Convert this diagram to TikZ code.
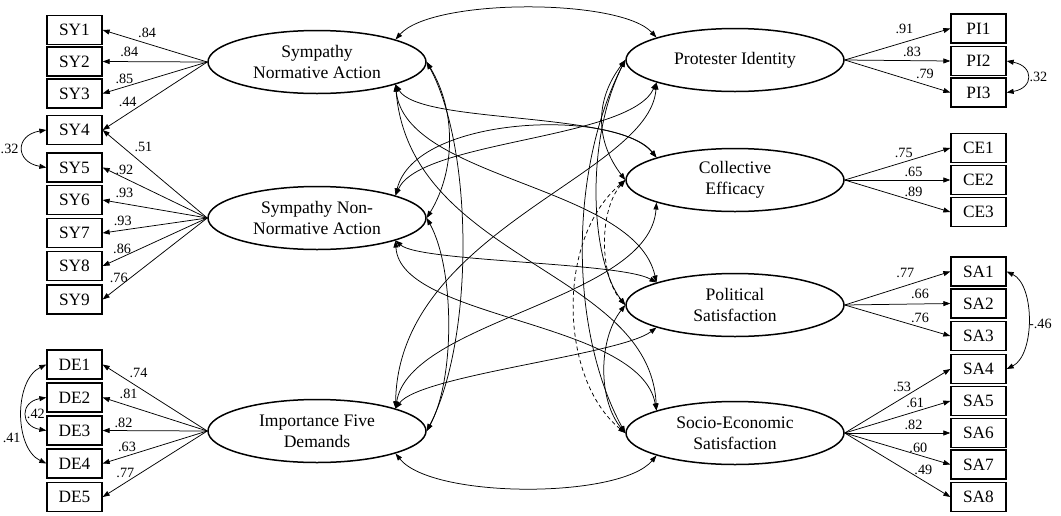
\documentclass[tikz,border=0pt]{standalone}
\usepackage{fontspec}
\setmainfont{Liberation Serif}
\usetikzlibrary{shapes.geometric,arrows.meta}
\begin{document}
\begin{tikzpicture}[x=1pt,y=-1pt,
  lat/.style={ellipse,draw,line width=1.5pt,minimum width=218pt,minimum height=63pt,inner sep=0pt,align=center,font=\fontsize{17.6}{21}\selectfont},
  ind/.style={rectangle,draw,line width=1.3pt,minimum width=55pt,minimum height=29pt,inner sep=0pt,font=\fontsize{17.3}{20}\selectfont},
  load/.style={-{Triangle[length=7pt,width=5pt]},line width=0.75pt},
  cov/.style={{Triangle[length=7pt,width=5pt]}-{Triangle[length=7pt,width=5pt]},line width=0.75pt},
  dcov/.style={cov,dash pattern=on 4pt off 3pt},
  lab/.style={font=\fontsize{14.2}{16}\selectfont,inner sep=0pt}
]
\useasboundingbox (0,0) rectangle (1061,515);

% latent variables
\node[lat] (A) at (317,62) {Sympathy\\Normative Action};
\node[lat] (B) at (317,218) {Sympathy Non-\\Normative Action};
\node[lat] (C) at (317,431) {Importance Five\\Demands};
\node[lat] (P) at (735,60) {Protester Identity};
\node[lat] (E) at (735,180) {Collective\\Efficacy};
\node[lat] (S) at (735,305) {Political\\Satisfaction};
\node[lat] (Q) at (735,433) {Socio-Economic\\Satisfaction};

% left indicators
\node[ind] (SY1) at (74.5,30) {SY1};
\node[ind] (SY2) at (74.5,61.5) {SY2};
\node[ind] (SY3) at (74.5,93.5) {SY3};
\node[ind] (SY4) at (74.5,130) {SY4};
\node[ind] (SY5) at (74.5,167.5) {SY5};
\node[ind] (SY6) at (74.5,200) {SY6};
\node[ind] (SY7) at (74.5,233) {SY7};
\node[ind] (SY8) at (74.5,266) {SY8};
\node[ind] (SY9) at (74.5,299.5) {SY9};
\node[ind] (DE1) at (74.5,364.5) {DE1};
\node[ind] (DE2) at (74.5,397.5) {DE2};
\node[ind] (DE3) at (74.5,430.5) {DE3};
\node[ind] (DE4) at (74.5,463.5) {DE4};
\node[ind] (DE5) at (74.5,497) {DE5};

% right indicators
\node[ind] (PI1) at (978.5,28.5) {PI1};
\node[ind] (PI2) at (978.5,61) {PI2};
\node[ind] (PI3) at (978.5,92.5) {PI3};
\node[ind] (CE1) at (978.5,148) {CE1};
\node[ind] (CE2) at (978.5,180) {CE2};
\node[ind] (CE3) at (978.5,212) {CE3};
\node[ind] (SA1) at (978.5,271.5) {SA1};
\node[ind] (SA2) at (978.5,303.5) {SA2};
\node[ind] (SA3) at (978.5,336) {SA3};
\node[ind] (SA4) at (978.5,369) {SA4};
\node[ind] (SA5) at (978.5,401) {SA5};
\node[ind] (SA6) at (978.5,433) {SA6};
\node[ind] (SA7) at (978.5,464.5) {SA7};
\node[ind] (SA8) at (978.5,497) {SA8};

% left loadings
\draw[load] (A.west) -- node[lab,pos=0.575,yshift=10.6pt]{.84} (SY1.east);
\draw[load] (A.west) -- node[lab,pos=0.745,yshift=10pt]{.84} (SY2.east);
\draw[load] (A.west) -- node[lab,pos=0.792,yshift=8pt]{.85} (SY3.east);
\draw[load] (A.west) -- node[lab,pos=0.761,yshift=12pt]{.44} (SY4.east);
\draw[load] (B.west) -- node[lab,pos=0.61,yshift=17.6pt]{.51} (SY4.east);
\draw[load] (B.west) -- node[lab,pos=0.792,yshift=8pt]{.92} (SY5.east);
\draw[load] (B.west) -- node[lab,pos=0.792,yshift=10.4pt]{.93} (SY6.east);
\draw[load] (B.west) -- node[lab,pos=0.808,yshift=9pt]{.93} (SY7.east);
\draw[load] (B.west) -- node[lab,pos=0.814,yshift=7.7pt]{.86} (SY8.east);
\draw[load] (B.west) -- node[lab,pos=0.846,yshift=9.3pt]{.76} (SY9.east);
\draw[load] (C.west) -- node[lab,pos=0.657,yshift=14pt]{.74} (DE1.east);
\draw[load] (C.west) -- node[lab,pos=0.752,yshift=11.8pt]{.81} (DE2.east);
\draw[load] (C.west) -- node[lab,pos=0.8,yshift=7.7pt]{.82} (DE3.east);
\draw[load] (C.west) -- node[lab,pos=0.767,yshift=8.6pt]{.63} (DE4.east);
\draw[load] (C.west) -- node[lab,pos=0.783,yshift=10pt]{.77} (DE5.east);

% right loadings
\draw[load] (P.east) -- node[lab,pos=0.565,yshift=13.2pt]{.91} (PI1.west);
\draw[load] (P.east) -- node[lab,pos=0.637,yshift=8.9pt]{.83} (PI2.west);
\draw[load] (P.east) -- node[lab,pos=0.759,yshift=10.7pt]{.79} (PI3.west);
\draw[load] (E.east) -- node[lab,pos=0.559,yshift=9.4pt]{.75} (CE1.west);
\draw[load] (E.east) -- node[lab,pos=0.651,yshift=8.3pt]{.65} (CE2.west);
\draw[load] (E.east) -- node[lab,pos=0.651,yshift=9.1pt]{.89} (CE3.west);
\draw[load] (S.east) -- node[lab,pos=0.574,yshift=12.5pt]{.77} (SA1.west);
\draw[load] (S.east) -- node[lab,pos=0.713,yshift=10pt]{.66} (SA2.west);
\draw[load] (S.east) -- node[lab,pos=0.713,yshift=8.8pt]{.76} (SA3.west);
\draw[load] (Q.east) -- node[lab,pos=0.543,yshift=10.9pt]{.53} (SA4.west);
\draw[load] (Q.east) -- node[lab,pos=0.667,yshift=9pt]{.61} (SA5.west);
\draw[load] (Q.east) -- node[lab,pos=0.651,yshift=8pt]{.82} (SA6.west);
\draw[load] (Q.east) -- node[lab,pos=0.697,yshift=6.7pt]{.60} (SA7.west);
\draw[load] (Q.east) -- node[lab,pos=0.744,yshift=10.6pt]{.49} (SA8.west);

% residual covariances
\draw[cov] (SY4.west) .. controls (15,135) and (15,162) .. node[lab,pos=0.5,anchor=east,xshift=-4pt]{.32} (SY5.west);
\draw[cov] (DE1.west) .. controls (14,380) and (14,448) .. node[lab,pos=0.7,anchor=east,xshift=-5pt]{.41} (DE4.west);
\draw[cov] (DE2.west) .. controls (20,402) and (20,426) .. node[lab,pos=0.5,anchor=west,xshift=0pt]{.42} (DE3.west);
\draw[cov] (PI2.east) .. controls (1034,66) and (1034,88) .. node[lab,pos=0.5,anchor=west,xshift=2pt]{.32} (PI3.east);
\draw[cov] (SA1.east) .. controls (1035,285) and (1035,355) .. node[lab,pos=0.53,anchor=west,xshift=1pt]{-.46} (SA4.east);

% latent covariances: left-left
\draw[cov] (A.east) .. controls (456,110) and (456,170) .. (B.east);
\draw[cov] (A.east) .. controls (474,150) and (474,340) .. (C.east);
\draw[cov] (B.east) .. controls (455,270) and (455,380) .. (C.east);

% top and bottom arcs
\draw[cov] (A.16) .. controls (432,-2) and (620,-2) .. (P.164);
\draw[cov] (C.344) .. controls (432,499) and (620,499) .. (Q.196);

% left-right
\draw[cov] (A.344) .. controls (420,125) and (620,110) .. (E.164);
\draw[cov] (B.16) .. controls (415,115) and (615,108) .. (E.164);
\draw[cov] (B.16) .. controls (420,140) and (630,140) .. (P.196);
\draw[cov] (C.16) .. controls (398,230) and (650,175) .. (P.196);
\draw[cov] (C.16) .. controls (410,320) and (650,300) .. (E.196);
\draw[cov] (C.16) .. controls (420,375) and (620,355) .. (S.196);
\draw[cov] (A.344) .. controls (405,180) and (635,185) .. (S.164);
\draw[cov] (A.344) .. controls (410,260) and (650,270) .. (Q.164);
\draw[cov] (B.344) .. controls (420,262) and (620,262) .. (S.164);
\draw[cov] (B.344) .. controls (400,320) and (640,320) .. (Q.164);

% right-right
\draw[cov] (P.west) .. controls (595,100) and (595,140) .. (E.west);
\draw[cov] (P.west) .. controls (585,140) and (590,260) .. (S.west);
\draw[cov] (P.west) .. controls (569,170) and (569,330) .. (Q.west);
\draw[dcov] (E.west) .. controls (599,210) and (599,275) .. (S.west);
\draw[dcov] (E.west) .. controls (555,240) and (560,380) .. (Q.west);
\draw[cov] (S.west) .. controls (598,340) and (598,400) .. (Q.west);
\end{tikzpicture}
\end{document}
